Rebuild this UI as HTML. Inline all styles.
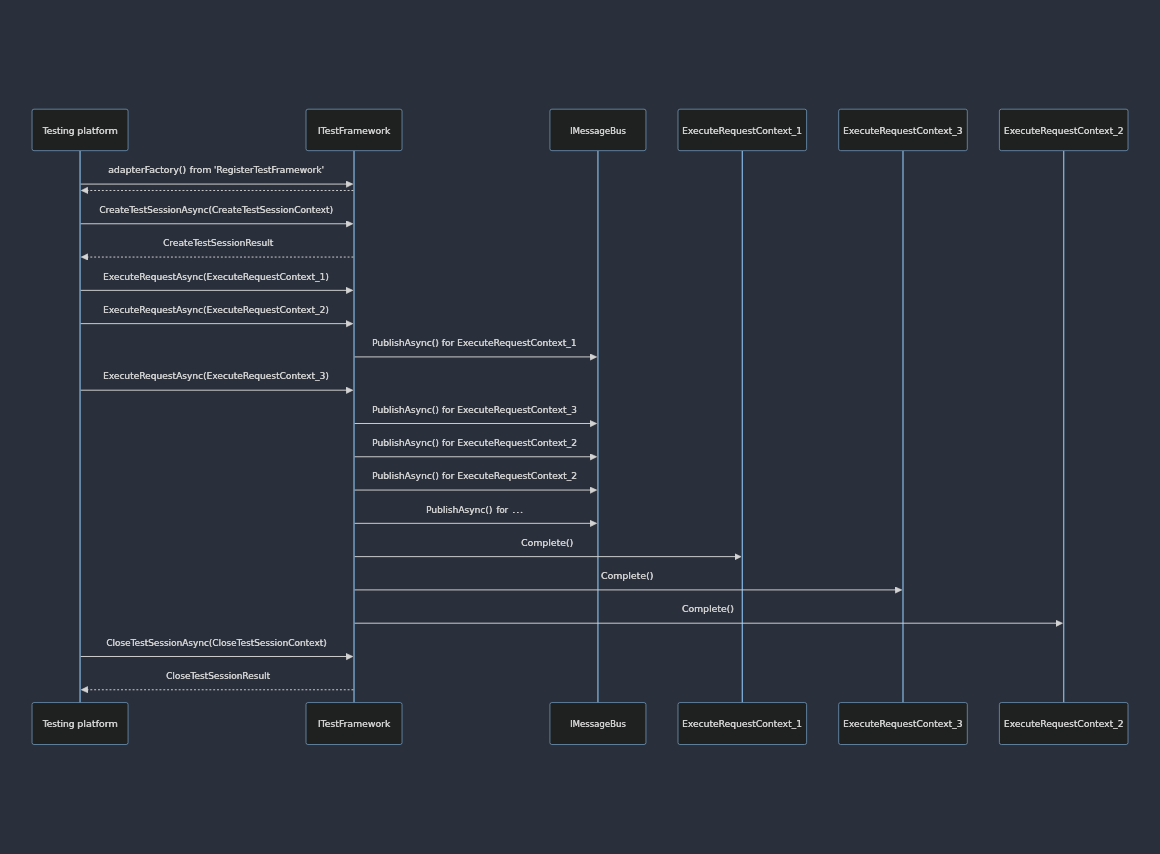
<!DOCTYPE html>
<html lang="en">
<head>
<meta charset="utf-8">
<title>Sequence diagram</title>
<style>
html,body{margin:0;padding:0;background:#2a303b;}
body{width:1160px;height:854px;overflow:hidden;}
svg{display:block;position:absolute;left:0;top:0;will-change:transform;}
text{font-family:"DejaVu Sans", "Liberation Sans", sans-serif;font-size:9.20px;fill:#d3d3d3;white-space:pre;}
.actor{fill:#1f2020;stroke:#81b1db;stroke-width:0.64;}
.life{stroke:#81b1db;stroke-width:1.28;}
.msg{stroke:#d3d3d3;stroke-width:0.96;fill:none;}
.dash{stroke-dasharray:1.92 1.92;}
.head{fill:#d3d3d3;stroke:#d3d3d3;stroke-width:1;}
</style>
</head>
<body>
<svg width="1160" height="854" viewBox="0 0 1160 854" role="img" aria-label="Sequence diagram">
<defs><marker id="arrowhead" viewBox="0 0 12 12" refX="7.9" refY="5" markerUnits="userSpaceOnUse" markerWidth="7.68" markerHeight="7.68" orient="auto"><path class="head" d="M -1 0 L 10 5 L 0 10 z"/></marker></defs>
<g>
<line class="life" x1="80.05" y1="150.65" x2="80.05" y2="702.57"/>
<line class="life" x1="354.02" y1="150.65" x2="354.02" y2="702.57"/>
<line class="life" x1="597.93" y1="150.65" x2="597.93" y2="702.57"/>
<line class="life" x1="742.30" y1="150.65" x2="742.30" y2="702.57"/>
<line class="life" x1="903.00" y1="150.65" x2="903.00" y2="702.57"/>
<line class="life" x1="1063.70" y1="150.65" x2="1063.70" y2="702.57"/>
</g>
<g>
<rect class="actor" x="32.05" y="109.20" width="96.00" height="41.45" rx="1.92" ry="1.92"/>
<text id="at0" y="134"><tspan x="42.57" textLength="31.71" lengthAdjust="spacingAndGlyphs">Testing</tspan> <tspan x="77.11" textLength="40.57" lengthAdjust="spacingAndGlyphs">platform</tspan></text><use href="#at0" x="0.35"/>
<rect class="actor" x="306.02" y="109.20" width="96.00" height="41.45" rx="1.92" ry="1.92"/>
<text id="at1" x="317.78" y="134" textLength="72.44" lengthAdjust="spacingAndGlyphs">ITestFramework</text><use href="#at1" x="0.35"/>
<rect class="actor" x="549.93" y="109.20" width="96.00" height="41.45" rx="1.92" ry="1.92"/>
<text id="at2" x="569.92" y="134" textLength="55.84" lengthAdjust="spacingAndGlyphs">IMessageBus</text><use href="#at2" x="0.35"/>
<rect class="actor" x="678.00" y="109.20" width="128.60" height="41.45" rx="1.92" ry="1.92"/>
<text id="at3" x="681.92" y="134" textLength="120.00" lengthAdjust="spacingAndGlyphs">ExecuteRequestContext_1</text><use href="#at3" x="0.35"/>
<rect class="actor" x="838.70" y="109.20" width="128.60" height="41.45" rx="1.92" ry="1.92"/>
<text id="at4" x="842.95" y="134" textLength="119.41" lengthAdjust="spacingAndGlyphs">ExecuteRequestContext_3</text><use href="#at4" x="0.35"/>
<rect class="actor" x="999.40" y="109.20" width="128.60" height="41.45" rx="1.92" ry="1.92"/>
<text id="at5" x="1003.77" y="134" textLength="119.58" lengthAdjust="spacingAndGlyphs">ExecuteRequestContext_2</text><use href="#at5" x="0.35"/>
</g>
<g>
<rect class="actor" x="32.05" y="702.57" width="96.00" height="41.95" rx="1.92" ry="1.92"/>
<text id="ab0" y="727"><tspan x="42.57" textLength="31.71" lengthAdjust="spacingAndGlyphs">Testing</tspan> <tspan x="77.11" textLength="40.57" lengthAdjust="spacingAndGlyphs">platform</tspan></text><use href="#ab0" x="0.35"/>
<rect class="actor" x="306.02" y="702.57" width="96.00" height="41.95" rx="1.92" ry="1.92"/>
<text id="ab1" x="317.78" y="727" textLength="72.44" lengthAdjust="spacingAndGlyphs">ITestFramework</text><use href="#ab1" x="0.35"/>
<rect class="actor" x="549.93" y="702.57" width="96.00" height="41.95" rx="1.92" ry="1.92"/>
<text id="ab2" x="569.92" y="727" textLength="55.84" lengthAdjust="spacingAndGlyphs">IMessageBus</text><use href="#ab2" x="0.35"/>
<rect class="actor" x="678.00" y="702.57" width="128.60" height="41.95" rx="1.92" ry="1.92"/>
<text id="ab3" x="681.92" y="727" textLength="120.00" lengthAdjust="spacingAndGlyphs">ExecuteRequestContext_1</text><use href="#ab3" x="0.35"/>
<rect class="actor" x="838.70" y="702.57" width="128.60" height="41.95" rx="1.92" ry="1.92"/>
<text id="ab4" x="842.95" y="727" textLength="119.41" lengthAdjust="spacingAndGlyphs">ExecuteRequestContext_3</text><use href="#ab4" x="0.35"/>
<rect class="actor" x="999.40" y="702.57" width="128.60" height="41.95" rx="1.92" ry="1.92"/>
<text id="ab5" x="1003.77" y="727" textLength="119.58" lengthAdjust="spacingAndGlyphs">ExecuteRequestContext_2</text><use href="#ab5" x="0.35"/>
</g>
<g>
<text id="m0" y="173"><tspan x="108.06" textLength="77.92" lengthAdjust="spacingAndGlyphs">adapterFactory()</tspan> <tspan x="189.50" textLength="21.79" lengthAdjust="spacingAndGlyphs">from</tspan> <tspan x="213.66" textLength="110.30" lengthAdjust="spacingAndGlyphs">'RegisterTestFramework'</tspan></text><use href="#m0" x="0.35"/>
<line class="msg" x1="80.69" y1="184.09" x2="351.46" y2="184.09" marker-end="url(#arrowhead)"/>
<line class="msg dash" x1="353.38" y1="190.49" x2="82.61" y2="190.49" marker-end="url(#arrowhead)"/>
<text id="m2" x="99.15" y="213" textLength="233.79" lengthAdjust="spacingAndGlyphs">CreateTestSessionAsync(CreateTestSessionContext)</text><use href="#m2" x="0.35"/>
<line class="msg" x1="80.69" y1="223.78" x2="351.46" y2="223.78" marker-end="url(#arrowhead)"/>
<text id="m3" x="162.93" y="246" textLength="110.18" lengthAdjust="spacingAndGlyphs">CreateTestSessionResult</text><use href="#m3" x="0.35"/>
<line class="msg dash" x1="353.38" y1="257.06" x2="82.61" y2="257.06" marker-end="url(#arrowhead)"/>
<text id="m4" x="102.93" y="280" textLength="225.81" lengthAdjust="spacingAndGlyphs">ExecuteRequestAsync(ExecuteRequestContext_1)</text><use href="#m4" x="0.35"/>
<line class="msg" x1="80.69" y1="290.35" x2="351.46" y2="290.35" marker-end="url(#arrowhead)"/>
<text id="m5" x="102.93" y="313" textLength="225.81" lengthAdjust="spacingAndGlyphs">ExecuteRequestAsync(ExecuteRequestContext_2)</text><use href="#m5" x="0.35"/>
<line class="msg" x1="80.69" y1="323.63" x2="351.46" y2="323.63" marker-end="url(#arrowhead)"/>
<text id="m6" x="371.95" y="346" textLength="204.54" lengthAdjust="spacingAndGlyphs">PublishAsync() for ExecuteRequestContext_1</text><use href="#m6" x="0.35"/>
<line class="msg" x1="354.66" y1="356.92" x2="595.37" y2="356.92" marker-end="url(#arrowhead)"/>
<text id="m7" x="102.93" y="379" textLength="225.81" lengthAdjust="spacingAndGlyphs">ExecuteRequestAsync(ExecuteRequestContext_3)</text><use href="#m7" x="0.35"/>
<line class="msg" x1="80.69" y1="390.20" x2="351.46" y2="390.20" marker-end="url(#arrowhead)"/>
<text id="m8" x="371.95" y="413" textLength="204.81" lengthAdjust="spacingAndGlyphs">PublishAsync() for ExecuteRequestContext_3</text><use href="#m8" x="0.35"/>
<line class="msg" x1="354.66" y1="423.49" x2="595.37" y2="423.49" marker-end="url(#arrowhead)"/>
<text id="m9" x="371.95" y="446" textLength="204.98" lengthAdjust="spacingAndGlyphs">PublishAsync() for ExecuteRequestContext_2</text><use href="#m9" x="0.35"/>
<line class="msg" x1="354.66" y1="456.77" x2="595.37" y2="456.77" marker-end="url(#arrowhead)"/>
<text id="m10" x="371.95" y="479" textLength="204.98" lengthAdjust="spacingAndGlyphs">PublishAsync() for ExecuteRequestContext_2</text><use href="#m10" x="0.35"/>
<line class="msg" x1="354.66" y1="490.06" x2="595.37" y2="490.06" marker-end="url(#arrowhead)"/>
<text id="m11" y="513"><tspan x="425.91" textLength="66.32" lengthAdjust="spacingAndGlyphs">PublishAsync()</tspan> <tspan x="496.31" textLength="11.74" lengthAdjust="spacingAndGlyphs">for</tspan> <tspan x="511.78" textLength="11.62" lengthAdjust="spacingAndGlyphs">...</tspan></text><use href="#m11" x="0.35"/>
<line class="msg" x1="354.66" y1="523.34" x2="595.37" y2="523.34" marker-end="url(#arrowhead)"/>
<text id="m12" x="521.00" y="546" textLength="52.05" lengthAdjust="spacingAndGlyphs">Complete()</text><use href="#m12" x="0.35"/>
<line class="msg" x1="354.66" y1="556.63" x2="739.74" y2="556.63" marker-end="url(#arrowhead)"/>
<text id="m13" x="600.89" y="579" textLength="52.32" lengthAdjust="spacingAndGlyphs">Complete()</text><use href="#m13" x="0.35"/>
<line class="msg" x1="354.66" y1="589.92" x2="900.44" y2="589.92" marker-end="url(#arrowhead)"/>
<text id="m14" x="681.83" y="612" textLength="51.90" lengthAdjust="spacingAndGlyphs">Complete()</text><use href="#m14" x="0.35"/>
<line class="msg" x1="354.66" y1="623.20" x2="1061.14" y2="623.20" marker-end="url(#arrowhead)"/>
<text id="m15" x="106.15" y="646" textLength="220.43" lengthAdjust="spacingAndGlyphs">CloseTestSessionAsync(CloseTestSessionContext)</text><use href="#m15" x="0.35"/>
<line class="msg" x1="80.69" y1="656.49" x2="351.46" y2="656.49" marker-end="url(#arrowhead)"/>
<text id="m16" x="165.93" y="679" textLength="104.07" lengthAdjust="spacingAndGlyphs">CloseTestSessionResult</text><use href="#m16" x="0.35"/>
<line class="msg dash" x1="353.38" y1="689.77" x2="82.61" y2="689.77" marker-end="url(#arrowhead)"/>
</g>
</svg>
</body>
</html>
